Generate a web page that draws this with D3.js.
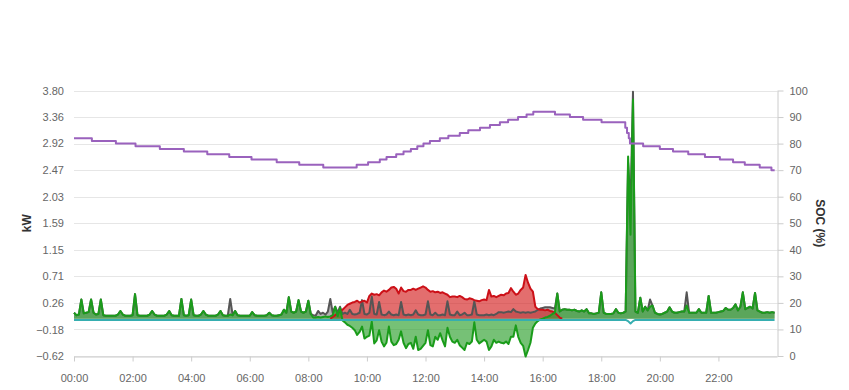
<!DOCTYPE html>
<html lang="en">
<head>
    <meta charset="UTF-8">
    <title>Power and battery SOC</title>
    <style>
        body, html {
          margin: 0;
          background: #fff;
        }
        svg { display: block; }

        .grid line { stroke: #e6e6e6; stroke-width: 1px; }
        .axis text { font-size: 11px; font-family: "Liberation Sans", Arial, sans-serif; fill: #666; }
        .axis path, .axis line { stroke: #ccc; }
        .title { font-size: 12px; font-weight: bold; font-family: "Liberation Sans", Arial, sans-serif; fill: #333; }
        .line { fill: none; stroke-width: 2px; stroke-linejoin: round; }
    </style>
</head>
<body>
    <svg width="849" height="390"></svg>

    <script src="https://d3js.org/d3.v7.min.js"></script>
    <script>

        // 5 minute samples, one row per hour (kW)
        const grid = [
            [0.10, 0.06, 0.07, 0.32, 0.09, 0.10, 0.11, 0.32, 0.10, 0.07, 0.08, 0.32],
            [0.06, 0.05, 0.05, 0.05, 0.05, 0.05, 0.07, 0.13, 0.07, 0.05, 0.05, 0.05],
            [0.06, 0.41, 0.06, 0.05, 0.05, 0.05, 0.05, 0.07, 0.13, 0.07, 0.05, 0.05],
            [0.05, 0.05, 0.07, 0.13, 0.06, 0.05, 0.05, 0.05, 0.33, 0.06, 0.05, 0.06],
            [0.32, 0.06, 0.05, 0.05, 0.07, 0.13, 0.07, 0.05, 0.05, 0.05, 0.05, 0.07],
            [0.13, 0.06, 0.05, 0.05, 0.07, 0.06, 0.13, 0.06, 0.05, 0.05, 0.05, 0.05],
            [0.05, 0.11, 0.06, 0.05, 0.05, 0.05, 0.05, 0.06, 0.10, 0.06, 0.05, 0.05],
            [0.06, 0.07, 0.15, 0.10, 0.36, 0.12, 0.10, 0.12, 0.31, 0.12, 0.10, 0.12],
            [0.30, 0.08, 0.02, 0.02, 0.03, 0.02, 0.03, 0.04, 0.03, 0.04, 0.06, 0.20],
            [0.04, 0.18, -0.03, -0.06, -0.10, -0.12, -0.15, -0.19, -0.27, -0.22, -0.13, -0.33],
            [-0.30, -0.28, -0.05, -0.41, -0.36, -0.19, -0.38, -0.46, -0.40, -0.13, -0.38, -0.44],
            [-0.42, -0.35, -0.21, -0.40, -0.49, -0.42, -0.40, -0.50, -0.30, -0.52, -0.50, -0.45],
            [-0.40, -0.19, -0.44, -0.46, -0.30, -0.35, -0.24, -0.36, -0.46, -0.15, -0.30, -0.38],
            [-0.40, -0.35, -0.44, -0.48, -0.52, -0.40, -0.42, -0.38, -0.06, -0.35, -0.41, -0.38],
            [-0.35, -0.38, -0.52, -0.46, -0.35, -0.40, -0.38, -0.40, -0.41, -0.38, -0.42, -0.30],
            [-0.30, -0.11, -0.30, -0.40, -0.45, -0.63, -0.52, -0.40, -0.15, -0.08, -0.04, -0.01],
            [0.00, 0.02, 0.03, 0.05, 0.08, 0.10, 0.42, 0.12, 0.15, 0.16, 0.15, 0.15],
            [0.14, 0.15, 0.13, 0.12, 0.14, 0.12, 0.16, 0.09, 0.09, 0.08, 0.09, 0.10],
            [0.44, 0.10, 0.08, 0.08, 0.08, 0.09, 0.16, 0.10, 0.09, 0.10, 0.12, 2.70],
            [1.40, 3.65, 0.12, 0.10, 0.35, 0.12, 0.20, 0.14, 0.20, 0.22, 0.10, 0.08],
            [0.07, 0.08, 0.10, 0.12, 0.19, 0.12, 0.10, 0.10, 0.11, 0.12, 0.12, 0.22],
            [0.10, 0.10, 0.10, 0.10, 0.16, 0.10, 0.10, 0.10, 0.38, 0.10, 0.10, 0.10],
            [0.11, 0.12, 0.13, 0.18, 0.15, 0.15, 0.18, 0.24, 0.14, 0.20, 0.44, 0.16],
            [0.18, 0.20, 0.17, 0.43, 0.14, 0.12, 0.10, 0.10, 0.11, 0.10, 0.11, 0.10]
        ];

        const load = [
            [0.10, 0.06, 0.07, 0.32, 0.09, 0.10, 0.11, 0.32, 0.10, 0.07, 0.08, 0.32],
            [0.06, 0.05, 0.05, 0.05, 0.05, 0.05, 0.07, 0.13, 0.07, 0.05, 0.05, 0.05],
            [0.06, 0.41, 0.06, 0.05, 0.05, 0.05, 0.05, 0.07, 0.13, 0.07, 0.05, 0.05],
            [0.05, 0.05, 0.07, 0.13, 0.06, 0.05, 0.05, 0.05, 0.33, 0.06, 0.05, 0.06],
            [0.32, 0.06, 0.05, 0.05, 0.07, 0.13, 0.07, 0.05, 0.05, 0.05, 0.05, 0.07],
            [0.13, 0.06, 0.05, 0.05, 0.33, 0.06, 0.13, 0.06, 0.05, 0.05, 0.05, 0.05],
            [0.05, 0.11, 0.06, 0.05, 0.05, 0.05, 0.05, 0.06, 0.10, 0.06, 0.05, 0.05],
            [0.06, 0.07, 0.15, 0.10, 0.36, 0.12, 0.10, 0.12, 0.31, 0.12, 0.10, 0.12],
            [0.30, 0.08, 0.06, 0.05, 0.13, 0.08, 0.10, 0.07, 0.12, 0.33, 0.10, 0.20],
            [0.10, 0.20, 0.08, 0.10, 0.08, 0.15, 0.08, 0.07, 0.08, 0.10, 0.31, 0.08],
            [0.07, 0.10, 0.37, 0.08, 0.07, 0.28, 0.07, 0.06, 0.07, 0.12, 0.07, 0.06],
            [0.07, 0.06, 0.28, 0.07, 0.06, 0.07, 0.06, 0.07, 0.14, 0.07, 0.06, 0.06],
            [0.07, 0.29, 0.07, 0.06, 0.10, 0.06, 0.06, 0.07, 0.06, 0.29, 0.07, 0.06],
            [0.06, 0.12, 0.06, 0.07, 0.10, 0.06, 0.06, 0.07, 0.29, 0.07, 0.06, 0.06],
            [0.06, 0.07, 0.06, 0.07, 0.06, 0.08, 0.11, 0.11, 0.10, 0.11, 0.12, 0.11],
            [0.16, 0.12, 0.11, 0.10, 0.11, 0.10, 0.11, 0.10, 0.11, 0.12, 0.15, 0.17],
            [0.18, 0.19, 0.19, 0.19, 0.18, 0.17, 0.42, 0.12, 0.15, 0.16, 0.15, 0.15],
            [0.14, 0.15, 0.13, 0.12, 0.14, 0.12, 0.16, 0.09, 0.09, 0.08, 0.09, 0.10],
            [0.44, 0.10, 0.08, 0.08, 0.08, 0.09, 0.16, 0.10, 0.09, 0.10, 0.12, 2.60],
            [1.90, 3.78, 0.12, 0.10, 0.35, 0.12, 0.20, 0.14, 0.32, 0.22, 0.10, 0.08],
            [0.07, 0.08, 0.10, 0.12, 0.19, 0.12, 0.10, 0.10, 0.11, 0.12, 0.12, 0.44],
            [0.10, 0.10, 0.10, 0.10, 0.16, 0.10, 0.10, 0.10, 0.38, 0.10, 0.10, 0.10],
            [0.11, 0.12, 0.13, 0.18, 0.15, 0.15, 0.18, 0.24, 0.14, 0.20, 0.44, 0.16],
            [0.18, 0.20, 0.17, 0.43, 0.14, 0.12, 0.10, 0.10, 0.11, 0.10, 0.11, 0.10]
        ];

        const pv = [
            [0, 0, 0, 0, 0, 0, 0, 0, 0, 0, 0, 0],
            [0, 0, 0, 0, 0, 0, 0, 0, 0, 0, 0, 0],
            [0, 0, 0, 0, 0, 0, 0, 0, 0, 0, 0, 0],
            [0, 0, 0, 0, 0, 0, 0, 0, 0, 0, 0, 0],
            [0, 0, 0, 0, 0, 0, 0, 0, 0, 0, 0, 0],
            [0, 0, 0, 0, 0, 0, 0, 0, 0, 0, 0, 0],
            [0, 0, 0, 0, 0, 0, 0, 0, 0, 0, 0, 0],
            [0, 0, 0, 0, 0, 0, 0, 0, 0, 0, 0, 0],
            [0, 0, 0, 0, 0, 0, 0, 0, 0, 0, 0.03, 0.06],
            [0.09, 0.12, 0.15, 0.19, 0.23, 0.25, 0.27, 0.28, 0.30, 0.27, 0.29, 0.30],
            [0.27, 0.38, 0.42, 0.40, 0.41, 0.39, 0.44, 0.47, 0.45, 0.48, 0.52, 0.53],
            [0.50, 0.42, 0.52, 0.46, 0.45, 0.48, 0.48, 0.50, 0.48, 0.50, 0.52, 0.54],
            [0.52, 0.48, 0.45, 0.46, 0.44, 0.45, 0.43, 0.44, 0.42, 0.40, 0.36, 0.37],
            [0.37, 0.36, 0.38, 0.36, 0.33, 0.32, 0.34, 0.33, 0.31, 0.30, 0.29, 0.31],
            [0.32, 0.31, 0.48, 0.37, 0.38, 0.36, 0.38, 0.40, 0.39, 0.42, 0.43, 0.51],
            [0.45, 0.40, 0.42, 0.48, 0.52, 0.73, 0.60, 0.50, 0.45, 0.20, 0.16, 0.15],
            [0.15, 0.14, 0.15, 0.13, 0.12, 0.10, 0.06, 0.02, 0, 0, 0, 0],
            [0, 0, 0, 0, 0, 0, 0, 0, 0, 0, 0, 0],
            [0, 0, 0, 0, 0, 0, 0, 0, 0, 0, 0, 0],
            [0, 0, 0, 0, 0, 0, 0, 0, 0, 0, 0, 0],
            [0, 0, 0, 0, 0, 0, 0, 0, 0, 0, 0, 0],
            [0, 0, 0, 0, 0, 0, 0, 0, 0, 0, 0, 0],
            [0, 0, 0, 0, 0, 0, 0, 0, 0, 0, 0, 0],
            [0, 0, 0, 0, 0, 0, 0, 0, 0, 0, 0, 0]
        ];

        const battery = [
            [-0.02, -0.02, -0.02, -0.02, -0.02, -0.02, -0.02, -0.02, -0.02, -0.02, -0.02, -0.02],
            [-0.02, -0.02, -0.02, -0.02, -0.02, -0.02, -0.02, -0.02, -0.02, -0.02, -0.02, -0.02],
            [-0.02, -0.02, -0.02, -0.02, -0.02, -0.02, -0.02, -0.02, -0.02, -0.02, -0.02, -0.02],
            [-0.02, -0.02, -0.02, -0.02, -0.02, -0.02, -0.02, -0.02, -0.02, -0.02, -0.02, -0.02],
            [-0.02, -0.02, -0.02, -0.02, -0.02, -0.02, -0.02, -0.02, -0.02, -0.02, -0.02, -0.02],
            [-0.02, -0.02, -0.02, -0.02, -0.02, -0.02, -0.02, -0.02, -0.02, -0.02, -0.02, -0.02],
            [-0.02, -0.02, -0.02, -0.02, -0.02, -0.02, -0.02, -0.02, -0.02, -0.02, -0.02, -0.02],
            [-0.02, -0.02, -0.02, -0.02, -0.02, -0.02, -0.02, -0.02, -0.02, -0.02, -0.02, -0.02],
            [-0.02, -0.02, -0.02, -0.02, -0.02, -0.02, -0.02, -0.02, -0.02, -0.02, -0.02, -0.02],
            [-0.02, -0.02, -0.02, -0.02, -0.02, -0.02, -0.02, -0.02, -0.02, -0.02, -0.02, -0.02],
            [-0.02, -0.02, -0.02, -0.02, -0.02, -0.02, -0.02, -0.02, -0.02, -0.02, -0.02, -0.02],
            [-0.02, -0.02, -0.02, -0.02, -0.02, -0.02, -0.02, -0.02, -0.02, -0.02, -0.02, -0.02],
            [-0.02, -0.02, -0.02, -0.02, -0.02, -0.02, -0.02, -0.02, -0.02, -0.02, -0.02, -0.02],
            [-0.02, -0.02, -0.02, -0.02, -0.02, -0.02, -0.02, -0.02, -0.02, -0.02, -0.02, -0.02],
            [-0.02, -0.02, -0.02, -0.02, -0.02, -0.02, -0.02, -0.02, -0.02, -0.02, -0.02, -0.02],
            [-0.02, -0.02, -0.02, -0.02, -0.02, -0.02, -0.02, -0.02, -0.02, -0.02, -0.02, -0.02],
            [-0.02, -0.02, -0.02, -0.02, -0.02, -0.02, -0.02, -0.02, -0.02, -0.02, -0.02, -0.02],
            [-0.02, -0.02, -0.02, -0.02, -0.02, -0.02, -0.02, -0.02, -0.02, -0.02, -0.02, -0.02],
            [-0.02, -0.02, -0.02, -0.02, -0.02, -0.02, -0.02, -0.02, -0.02, -0.02, -0.02, -0.04],
            [-0.08, -0.04, -0.02, -0.02, -0.02, -0.02, -0.02, -0.02, -0.02, -0.02, -0.02, -0.02],
            [-0.02, -0.02, -0.02, -0.02, -0.02, -0.02, -0.02, -0.02, -0.02, -0.02, -0.02, -0.02],
            [-0.02, -0.02, -0.02, -0.02, -0.02, -0.02, -0.02, -0.02, -0.02, -0.02, -0.02, -0.02],
            [-0.02, -0.02, -0.02, -0.02, -0.02, -0.02, -0.02, -0.02, -0.02, -0.02, -0.02, -0.02],
            [-0.02, -0.02, -0.02, -0.02, -0.02, -0.02, -0.02, -0.02, -0.02, -0.02, -0.02, -0.02]
        ];

        // SOC steps: hour of change and new level (%)
        const socHours = [0, 0.61, 1.43, 2.1, 2.93, 3.75, 4.55, 5.3, 6.06, 6.92,
                          7.69, 8.51, 9.65, 10.04, 10.44, 10.67, 11.0, 11.25, 11.5, 11.72,
                          11.93, 12.15, 12.49, 12.78, 13.17, 13.46, 13.86, 14.2, 14.54, 14.82,
                          15.16, 15.45, 15.68, 16.42, 16.93, 17.38, 18.01, 18.82, 18.88, 18.94,
                          18.98, 19.43, 20.0, 20.45, 20.97, 21.54, 22.05, 22.5, 22.9, 23.41,
                          23.81, 23.92];
        const socValues = [82, 81, 80, 79, 78, 77, 76, 75, 74, 73,
                           72, 71, 72, 73, 74, 75, 76, 77, 78, 79,
                           80, 81, 82, 83, 84, 85, 86, 87, 88, 89,
                           90, 91, 92, 91, 90, 89, 88, 86, 84, 82,
                           80, 79, 78, 77, 76, 75, 74, 73, 72, 71,
                           70, 70];

        const kwTicks = [-0.62, -0.18, 0.26, 0.71, 1.15, 1.59, 2.03, 2.47, 2.92, 3.36, 3.80];
        const socTicks = [0, 10, 20, 30, 40, 50, 60, 70, 80, 90, 100];
        const hourTicks = [0, 2, 4, 6, 8, 10, 12, 14, 16, 18, 20, 22];
        const hourLabels = ["00:00", "02:00", "04:00", "06:00", "08:00", "10:00",
                            "12:00", "14:00", "16:00", "18:00", "20:00", "22:00"];

        const gridS = grid.flat(), loadS = load.flat(), pvS = pv.flat(), battS = battery.flat();

        const svg = d3.select("svg");
        const plotLeft = 74, plotRight = 777, plotTop = 90.5, plotBottom = 356;

        const x = d3.scaleLinear().domain([0, 24]).range([plotLeft, plotRight]);
        const yKw = d3.scaleLinear().domain([-0.62, 3.80]).range([plotBottom, plotTop]);
        const ySoc = d3.scaleLinear().domain([0, 100]).range([plotBottom, plotTop]);
        const hourOf = i => i * 5 / 60;

        // grid lines
        svg.append("g")
            .attr("class", "grid")
            .selectAll("line")
            .data(socTicks)
            .enter().append("line")
            .attr("x1", plotLeft).attr("x2", plotRight)
            .attr("y1", d => Math.round(ySoc(d)) + 0.5)
            .attr("y2", d => Math.round(ySoc(d)) + 0.5);

        // axes
        svg.append("g")
            .attr("class", "axis")
            .attr("transform", `translate(${plotLeft},0)`)
            .call(d3.axisLeft(yKw).tickValues(kwTicks).tickFormat(d3.format(".2f")).tickSize(0).tickPadding(10))
            .call(g => g.select(".domain").remove());

        svg.append("g")
            .attr("class", "axis")
            .attr("transform", `translate(${plotRight + 0.5},0)`)
            .call(d3.axisRight(ySoc).tickValues(socTicks).tickSize(6).tickSizeOuter(0).tickPadding(6));

        svg.append("g")
            .attr("class", "axis")
            .attr("transform", `translate(0,${Math.round(plotBottom) + 0.5})`)
            .call(d3.axisBottom(x).tickValues(hourTicks).tickFormat((d, i) => hourLabels[i]).tickSize(5).tickSizeOuter(0).tickPadding(13));

        svg.append("text")
            .attr("class", "title")
            .attr("transform", `translate(31,${(plotTop + plotBottom) / 2}) rotate(-90)`)
            .attr("text-anchor", "middle")
            .text("kW");

        svg.append("text")
            .attr("class", "title")
            .attr("transform", `translate(816,${(plotTop + plotBottom) / 2}) rotate(90)`)
            .attr("text-anchor", "middle")
            .text("SOC (%)");

        // areas
        const area = d3.area()
            .x((d, i) => x(hourOf(i)))
            .y0(yKw(0))
            .y1(d => yKw(d));

        const line = d3.line()
            .x((d, i) => x(hourOf(i)))
            .y(d => yKw(d));

        const pvOn = (d, i) => d > 0 || pvS[i - 1] > 0 || pvS[i + 1] > 0;

        svg.append("path").datum(loadS)
            .attr("d", area).attr("fill", "#666").attr("fill-opacity", 0.5);
        svg.append("path").datum(pvS)
            .attr("d", area.defined(pvOn)).attr("fill", "#d42020").attr("fill-opacity", 0.65);
        area.defined(() => true);
        svg.append("path").datum(gridS)
            .attr("d", area).attr("fill", "#2ca02c").attr("fill-opacity", 0.65);

        svg.append("path").datum(loadS)
            .attr("class", "line").attr("d", line).attr("stroke", "#555");
        svg.append("path").datum(pvS)
            .attr("class", "line").attr("d", line.defined(pvOn)).attr("stroke", "#cc1018");
        line.defined(() => true);
        svg.append("path").datum(gridS)
            .attr("class", "line").attr("d", line).attr("stroke", "#1a9c1a");
        svg.append("path").datum(battS)
            .attr("class", "line").attr("d", line).attr("stroke", "#36aeb0");

        // SOC on the right axis
        const socLine = d3.line()
            .x((d, i) => x(socHours[i]))
            .y(d => ySoc(d))
            .curve(d3.curveStepAfter);

        svg.append("path").datum(socValues)
            .attr("class", "line").attr("d", socLine).attr("stroke", "#9a62bd");

    </script>
</body>
</html>
